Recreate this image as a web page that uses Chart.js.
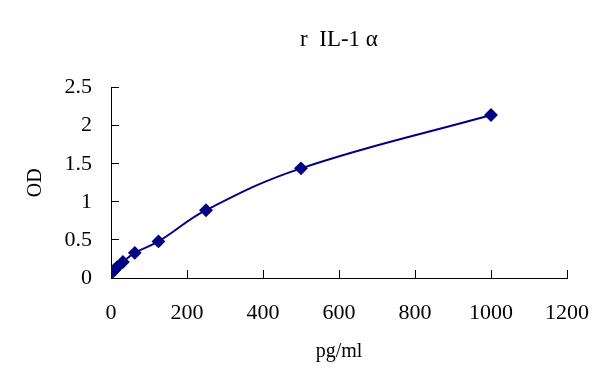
<!DOCTYPE html>
<html>
<head>
<meta charset="utf-8">
<title>r IL-1a</title>
<script src="https://cdn.jsdelivr.net/npm/chart.js@4.4.1/dist/chart.umd.min.js"></script>
<style>
  html, body { margin: 0; padding: 0; background: #fff; }
</style>
</head>
<body>
<canvas id="curva" width="601" height="385"></canvas>
<script>
// standard curve values
var concentraciones = [0, 7.8, 15.6, 31.25, 62.5, 125, 250, 500, 1000];
var densidades = [0.06, 0.10, 0.14, 0.21, 0.33, 0.48, 0.89, 1.44, 2.14];
var ticksX = [0, 200, 400, 600, 800, 1000, 1200];
var ticksY = [0, 0.5, 1, 1.5, 2, 2.5];

var fuente = "'Liberation Serif', 'DejaVu Serif', serif";
var azul = '#000080';

var puntos = [];
for (var i = 0; i < concentraciones.length; i++) {
  puntos.push({ x: concentraciones[i], y: densidades[i] });
}

var ctx = document.getElementById('curva').getContext('2d');
new Chart(ctx, {
  type: 'scatter',
  data: {
    datasets: [{
      data: puntos,
      showLine: true,
      borderColor: azul,
      backgroundColor: azul,
      borderWidth: 2,
      tension: 0.4,
      pointStyle: 'rectRot',
      pointRadius: 5.5,
      pointHoverRadius: 5.5
    }]
  },
  options: {
    responsive: false,
    animation: false,
    maintainAspectRatio: false,
    layout: { padding: { left: 0, right: 34, top: 0, bottom: 0 } },
    plugins: {
      legend: { display: false },
      tooltip: { enabled: false },
      title: {
        display: true,
        fullSize: false,
        text: 'r  IL-1 \u03b1',
        color: '#000',
        font: { family: fuente, size: 23, weight: 'normal' },
        padding: { top: 26, bottom: 34 }
      }
    },
    scales: {
      x: {
        type: 'linear',
        min: 0, max: 1200,
        afterBuildTicks: function(s) { s.ticks = ticksX.map(function(v) { return { value: v }; }); },
        afterFit: function(s) { s.height = 107; s.paddingRight = 0; s.paddingLeft = 0; },
        border: { color: '#000', width: 1 },
        grid: { drawOnChartArea: false, color: '#000', tickLength: -8 },
        ticks: {
          color: '#000', font: { family: fuente, size: 22 }, padding: 30, maxRotation: 0,
          autoSkip: false, callback: function(v) { return String(v); }
        },
        title: {
          display: true, text: 'pg/ml', color: '#000',
          font: { family: fuente, size: 20 }, padding: { top: 0, bottom: 21 }
        }
      },
      y: {
        type: 'linear',
        min: 0, max: 2.5,
        afterBuildTicks: function(s) { s.ticks = ticksY.map(function(v) { return { value: v }; }); },
        afterFit: function(s) { s.width = 111; },
        border: { color: '#000', width: 1 },
        grid: { drawOnChartArea: false, color: '#000', tickLength: -8 },
        ticks: {
          color: '#000', font: { family: fuente, size: 22 }, padding: 27,
          autoSkip: false, callback: function(v) { return String(v); }
        },
        title: {
          display: true, text: 'OD', color: '#000',
          font: { family: fuente, size: 20 }, padding: { top: 24, bottom: 0 }
        }
      }
    }
  }
});
</script>
</body>
</html>
